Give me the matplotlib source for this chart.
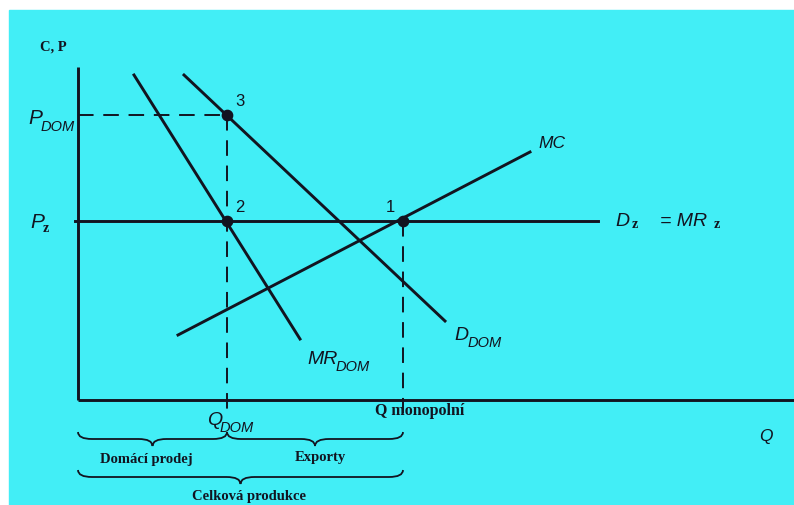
import matplotlib
matplotlib.use("Agg")
import matplotlib.pyplot as plt
from matplotlib.patches import Rectangle, PathPatch
from matplotlib.path import Path

# Economic diagram data (chart units: x right, y up, origin at axes origin)
origin = (78, 401)            # pixel position of axes origin
axis_y_top = 333              # height of vertical axis
axis_x_right = 716            # length of horizontal axis

mr_dom_x = [56, 222]; mr_dom_y = [325, 61]
d_dom_x = [106, 367]; d_dom_y = [325, 79]
mc_x = [100, 452]; mc_y = [65, 248]
pz_level = 179
dz_x = [-3, 520]
p_dom_level = 285
q_dom = 149
q_mono = 325

points_x = [q_mono, q_dom, q_dom]
points_y = [pz_level, pz_level, p_dom_level]
points_lbl = ["1", "2", "3"]

ink = "#121420"
bg = "#42eef6"

fig = plt.figure(figsize=(7.94, 5.06), dpi=100)
ax = fig.add_axes([0, 0, 1, 1])
ax.set_xlim(-origin[0], 794 - origin[0])
ax.set_ylim(origin[1] - 506, origin[1])
ax.axis("off")

ax.add_patch(Rectangle((9 - origin[0], origin[1] - 506), 794, 506 - 11, color=bg, zorder=0))

lw = 2.1
# axes
ax.plot([0, 0], [0, axis_y_top], color=ink, lw=lw, solid_capstyle="butt")
ax.plot([0, axis_x_right], [0, 0], color=ink, lw=lw, solid_capstyle="butt")

# curves
ax.plot(mr_dom_x, mr_dom_y, color=ink, lw=lw)
ax.plot(d_dom_x, d_dom_y, color=ink, lw=lw)
ax.plot(mc_x, mc_y, color=ink, lw=lw)
ax.plot(dz_x, [pz_level, pz_level], color=ink, lw=lw)

# dashed guides
dash = (0, (8, 5))
ax.plot([0, q_dom], [p_dom_level, p_dom_level], color=ink, lw=1.4, linestyle=dash)
ax.plot([q_dom, q_dom], [p_dom_level, -13], color=ink, lw=1.4, linestyle=dash)
ax.plot([q_mono, q_mono], [pz_level, -13], color=ink, lw=1.4, linestyle=dash)

ax.scatter(points_x, points_y, s=55, color=ink, zorder=5)
for x, y, t in zip(points_x, points_y, points_lbl):
    dx = -13 if t == "1" else 13
    ax.text(x + dx, y + 14, t, fontsize=12, ha="center", va="center",
            family="Liberation Sans", color=ink)

sans_it = dict(family="Liberation Sans", style="italic", color=ink)
serif_b = dict(family="Liberation Serif", weight="bold", color=ink)

ax.text(-38, 354, "C, P", fontsize=10.5, ha="left", va="center", **serif_b)
ax.text(-50, p_dom_level - 3, "P", fontsize=15, ha="left", va="center", **sans_it)
ax.text(-37, p_dom_level - 11, "DOM", fontsize=10.5, ha="left", va="center", **sans_it)
ax.text(-48, pz_level - 1, "P", fontsize=15, ha="left", va="center", **sans_it)
ax.text(-35, pz_level - 7, "z", fontsize=10, ha="left", va="center", **serif_b)

ax.text(460, 257, "MC", fontsize=12.5, ha="left", va="center", **sans_it)
ax.text(537, 180, "D", fontsize=14, ha="left", va="center", **sans_it)
ax.text(554, 176, "z", fontsize=10, ha="left", va="center", **serif_b)
ax.text(582, 180, "= MR", fontsize=14, ha="left", va="center", **sans_it)
ax.text(636, 176, "z", fontsize=10, ha="left", va="center", **serif_b)

ax.text(376, 65, "D", fontsize=14, ha="left", va="center", **sans_it)
ax.text(390, 58, "DOM", fontsize=10.5, ha="left", va="center", **sans_it)
ax.text(229, 41, "MR", fontsize=14, ha="left", va="center", **sans_it)
ax.text(258, 34, "DOM", fontsize=10.5, ha="left", va="center", **sans_it)

ax.text(129, -20, "Q", fontsize=14, ha="left", va="center", **sans_it)
ax.text(142, -27, "DOM", fontsize=10.5, ha="left", va="center", **sans_it)
ax.text(q_mono + 17, -10, "Q monopolní", fontsize=11.5, ha="center", va="center", **serif_b)
ax.text(681, -36, "Q", fontsize=12.5, ha="left", va="center", **sans_it)


def brace(x0, x1, ytop, depth=14, color=ink):
    xm = (x0 + x1) / 2
    r = depth / 2
    verts = [
        (x0, ytop), (x0, ytop - r), (x0 + 2 * r, ytop - r),
        (xm - 2 * r, ytop - r), (xm, ytop - r), (xm, ytop - depth),
        (xm, ytop - r), (xm + 2 * r, ytop - r),
        (x1 - 2 * r, ytop - r), (x1, ytop - r), (x1, ytop),
    ]
    codes = [Path.MOVETO, Path.CURVE3, Path.CURVE3,
             Path.LINETO, Path.CURVE3, Path.CURVE3,
             Path.CURVE3, Path.CURVE3,
             Path.LINETO, Path.CURVE3, Path.CURVE3]
    ax.add_patch(PathPatch(Path(verts, codes), fill=False, edgecolor=color, lw=1.3))


brace(0, q_dom, -32)
brace(q_dom, q_mono, -32)
brace(0, q_mono, -70)
ax.text(q_dom / 2 - 6, -59, "Domácí prodej", fontsize=10.5, ha="center", va="center", **serif_b)
ax.text((q_dom + q_mono) / 2 + 5, -57, "Exporty", fontsize=10.5, ha="center", va="center", **serif_b)
ax.text(q_mono / 2 + 8, -96, "Celková produkce", fontsize=10.5, ha="center", va="center", **serif_b)

fig.savefig("out.png", dpi=100, facecolor="white")
